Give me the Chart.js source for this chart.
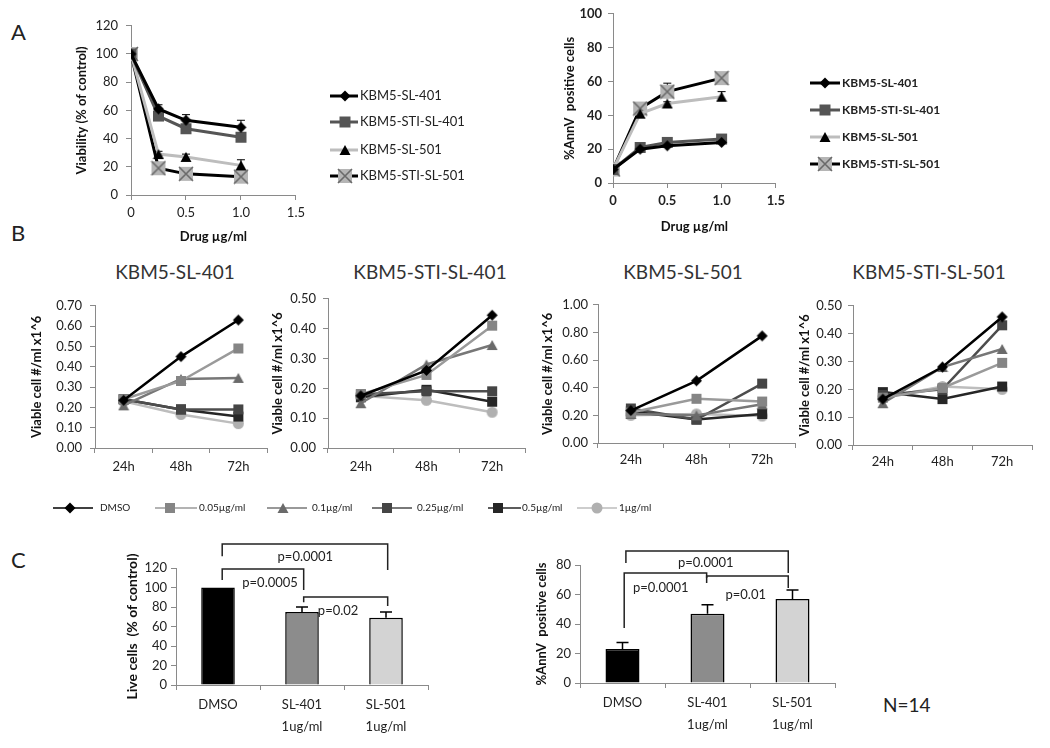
<!DOCTYPE html>
<html>
<head>
<meta charset="utf-8">
<script src="https://cdn.jsdelivr.net/npm/chart.js@4.4.1/dist/chart.umd.min.js"></script>
<style>
  body { margin: 0; background: #fff; font-family: Lato, "Open Sans", sans-serif; color: #222; }
  #page { position: relative; width: 1050px; height: 748px; overflow: hidden; background: #fff; }
  canvas { position: absolute; }
  .lbl { position: absolute; white-space: nowrap; line-height: 1; }
  .panel { font-size: 22px; color: #222; }
  .title { font-size: 19px; color: #333; transform: translateX(-50%); }
</style>
</head>
<body>
<div id="page">
  <div class="lbl panel" style="left:11px;top:21px">A</div>
  <div class="lbl panel" style="left:11px;top:222px">B</div>
  <div class="lbl panel" style="left:11px;top:549px">C</div>

  <div class="lbl title" style="left:175px;top:262px">KBM5-SL-401</div>
  <div class="lbl title" style="left:430px;top:262px">KBM5-STI-SL-401</div>
  <div class="lbl title" style="left:683px;top:262px">KBM5-SL-501</div>
  <div class="lbl title" style="left:929px;top:262px">KBM5-STI-SL-501</div>
  <div class="lbl" style="left:883px;top:695px;font-size:19px;color:#222">N=14</div>

  <canvas id="a1" width="236" height="235" style="left:74px;top:10px"></canvas>
  <canvas id="a2" width="228" height="235" style="left:562px;top:0px"></canvas>
  <canvas id="legA1" width="170" height="110" style="left:320px;top:80px"></canvas>
  <canvas id="legA2" width="170" height="110" style="left:800px;top:68px"></canvas>

  <canvas id="b1" width="246" height="193" style="left:29px;top:290px"></canvas>
  <canvas id="b2" width="263" height="199" style="left:270px;top:284px"></canvas>
  <canvas id="b3" width="263" height="186" style="left:540px;top:292px"></canvas>
  <canvas id="b4" width="243" height="188" style="left:797px;top:292px"></canvas>
  <canvas id="legB" width="700" height="28" style="left:0px;top:495px"></canvas>

  <canvas id="c1" width="309" height="213" style="left:124px;top:535px"></canvas>
  <canvas id="c2" width="306" height="208" style="left:534px;top:540px"></canvas>
</div>

<script>
Chart.defaults.font.family = "Lato, 'Open Sans', sans-serif";
Chart.defaults.color = "#222";

// ---- panel A: dose response ----
const doses = [0, 0.25, 0.5, 1];
const cellLines = ["KBM5-SL-401", "KBM5-STI-SL-401", "KBM5-SL-501", "KBM5-STI-SL-501"];
const viability = [
  [100, 61, 53, 48],
  [100, 56, 47, 41],
  [100, 29, 27, 21],
  [100, 19, 15, 13],
];
const viabilityErr = [[0, 3, 4, 5], [0, 2, 2, 2], [0, 2, 2, 4], [0, 1, 1, 1]];
const annexinA = [
  [8, 20, 22, 24],
  [8, 21, 24, 26],
  [8, 41, 47, 51],
  [8, 44, 54, 62],
];
const annexinAErr = [[0, 1, 1, 1], [0, 1, 1, 1], [0, 1, 1, 3], [0, 1, 5, 1]];

// ---- panel B: viable cells over time ----
const times = ["24h", "48h", "72h"];
const doseLabels = ["DMSO", "0.05µg/ml", "0.1µg/ml", "0.25µg/ml", "0.5µg/ml", "1µg/ml"];
const sl401 = [
  [0.235, 0.45, 0.63],
  [0.24, 0.33, 0.49],
  [0.21, 0.34, 0.345],
  [0.24, 0.19, 0.19],
  [0.24, 0.19, 0.155],
  [0.23, 0.165, 0.12],
];
const stiSl401 = [
  [0.175, 0.26, 0.445],
  [0.18, 0.245, 0.41],
  [0.15, 0.28, 0.345],
  [0.18, 0.19, 0.19],
  [0.17, 0.195, 0.155],
  [0.175, 0.16, 0.12],
];
const sl501 = [
  [0.235, 0.45, 0.775],
  [0.22, 0.32, 0.30],
  [0.21, 0.20, 0.28],
  [0.25, 0.17, 0.43],
  [0.23, 0.17, 0.21],
  [0.20, 0.21, 0.195],
];
const stiSl501 = [
  [0.165, 0.28, 0.46],
  [0.17, 0.205, 0.295],
  [0.15, 0.28, 0.345],
  [0.18, 0.20, 0.43],
  [0.19, 0.165, 0.21],
  [0.17, 0.21, 0.20],
];

// ---- panel C: 1ug/ml summary ----
const groups = [["DMSO"], ["SL-401", "1ug/ml"], ["SL-501", "1ug/ml"]];
const liveCells = [100, 75, 69];
const liveCellsErr = [0, 5, 6];
const annexinC = [23, 47, 57];
const annexinCErr = [4.5, 6, 6];
const liveBrackets = [
  { from: 0.05, to: 2.02, top: 144.6, low: [132, 118], text: "p=0.0001", tx: 1.04, ty: 131 },
  { from: 0.05, to: 1.02, top: 119, low: [107.7, 97.4], text: "p=0.0005", tx: 0.62, ty: 104.6 },
  { from: 1.02, to: 2.02, top: 90.3, low: [85, 81], text: "p=0.02", tx: 1.43, ty: 75.9 },
];
const annexinBrackets = [
  { from: 0.04, to: 1.95, top: 89.5, low: [81.4, 74.6], text: "p=0.0001", tx: 0.98, ty: 81.4 },
  { from: 0.02, to: 0.99, top: 74.6, low: [37.3, 67.8], text: "p=0.0001", tx: 0.45, ty: 64.4 },
  { from: 0.99, to: 1.95, top: 72.5, low: [71.2, 64.4], text: "p=0.01", tx: 1.45, ty: 59.7 },
];

// styles
const aStyles = [
  { line: "#000", marker: "diamond", size: 11, fill: "#000" },
  { line: "#555", marker: "square", size: 11, fill: "#555" },
  { line: "#bdbdbd", marker: "triangle", size: 10, fill: "#000" },
  { line: "#000", marker: "xbox", size: 14, fill: "#b5b5b5", stroke: "#6a6a6a" },
];
const bStyles = [
  { line: "#000", marker: "diamond", size: 11, fill: "#000" },
  { line: "#9a9a9a", marker: "square", size: 10, fill: "#858585" },
  { line: "#777", marker: "triangle", size: 10, fill: "#6a6a6a" },
  { line: "#4d4d4d", marker: "square", size: 10, fill: "#454545" },
  { line: "#262626", marker: "square", size: 10, fill: "#262626" },
  { line: "#bdbdbd", marker: "circle", size: 11, fill: "#b0b0b0" },
];
const cFills = ["#000", "#8c8c8c", "#d3d3d3"];

const drawMarker = (ctx, st, x, y) => {
  const s = st.size, h = s / 2;
  ctx.save();
  ctx.fillStyle = st.fill;
  ctx.beginPath();
  if (st.marker === "diamond") {
    ctx.moveTo(x, y - h); ctx.lineTo(x + h, y); ctx.lineTo(x, y + h); ctx.lineTo(x - h, y); ctx.closePath(); ctx.fill();
  } else if (st.marker === "square") {
    ctx.rect(x - h, y - h, s, s); ctx.fill();
  } else if (st.marker === "triangle") {
    ctx.moveTo(x, y - h); ctx.lineTo(x + h * 1.1, y + h); ctx.lineTo(x - h * 1.1, y + h); ctx.closePath(); ctx.fill();
  } else if (st.marker === "circle") {
    ctx.arc(x, y, h, 0, Math.PI * 2); ctx.fill();
  } else if (st.marker === "xbox") {
    ctx.rect(x - h, y - h, s, s); ctx.fill();
    ctx.beginPath();
    ctx.strokeStyle = st.stroke; ctx.lineWidth = 1.6;
    ctx.moveTo(x - h, y - h); ctx.lineTo(x + h, y + h);
    ctx.moveTo(x + h, y - h); ctx.lineTo(x - h, y + h);
    ctx.stroke();
  }
  ctx.restore();
};

const markerImg = (st) => {
  const c = document.createElement("canvas");
  c.width = st.size + 2; c.height = st.size + 2;
  drawMarker(c.getContext("2d"), st, c.width / 2, c.height / 2);
  return c;
};

// error bars drawn from the data values through the y scale
const errorBars = {
  id: "errorBars",
  draw(chart, opts) {
    const { ctx } = chart;
    const y = chart.scales.y;
    ctx.save();
    ctx.strokeStyle = "#000";
    ctx.lineWidth = opts.width || 1;
    opts.errs.forEach((errs, di) => {
      const ds = chart.data.datasets[di];
      chart.getDatasetMeta(di).data.forEach((el, j) => {
        const e = errs[j];
        if (!e) return;
        const v = ds.data[j];
        const val = typeof v === "object" ? v.y : v;
        const top = y.getPixelForValue(val + e);
        ctx.beginPath();
        ctx.moveTo(el.x, y.getPixelForValue(val));
        ctx.lineTo(el.x, top);
        ctx.moveTo(el.x - opts.cap, top);
        ctx.lineTo(el.x + opts.cap, top);
        ctx.stroke();
      });
    });
    ctx.restore();
  },
  beforeDatasetsDraw(chart, args, opts) {
    if (opts.errs && opts.before) this.draw(chart, opts);
  },
  afterDatasetsDraw(chart, args, opts) {
    if (opts.errs && !opts.before) this.draw(chart, opts);
  },
};

const brackets = {
  id: "brackets",
  afterDraw(chart, args, opts) {
    if (!opts.items) return;
    const { ctx } = chart;
    const x = chart.scales.x, y = chart.scales.y;
    ctx.save();
    ctx.strokeStyle = "#222";
    ctx.lineWidth = 1.5;
    ctx.fillStyle = "#222";
    ctx.font = "13px Lato, 'Open Sans', sans-serif";
    ctx.textAlign = "center";
    ctx.textBaseline = "middle";
    opts.items.forEach((b) => {
      const xa = x.getPixelForValue(b.from), xb = x.getPixelForValue(b.to);
      const yt = y.getPixelForValue(b.top);
      ctx.beginPath();
      ctx.moveTo(xa, y.getPixelForValue(b.low[0]));
      ctx.lineTo(xa, yt);
      ctx.lineTo(xb, yt);
      ctx.lineTo(xb, y.getPixelForValue(b.low[1]));
      ctx.stroke();
      ctx.fillText(b.text, x.getPixelForValue(b.tx), y.getPixelForValue(b.ty));
    });
    ctx.restore();
  },
};

Chart.register(errorBars, brackets);

const yAxis = (o) => ({
  min: 0,
  max: o.max,
  ticks: {
    stepSize: o.step,
    color: "#222",
    padding: o.tickPad,
    font: { size: 13, weight: o.bold ? "bold" : "normal" },
    callback: o.fmt || ((v) => v),
  },
  grid: { drawOnChartArea: false, tickLength: 5, color: "#8a8a8a" },
  border: { color: "#8a8a8a", width: 1 },
  title: { display: true, text: o.title, color: "#111", padding: 0, font: { size: o.titleSize || 13, weight: "bold" } },
  afterFit: (s) => { s.width = o.width; },
});

const catAxis = (labels, height, pad, lineHeight) => ({
  type: "category",
  labels: labels,
  offset: true,
  ticks: { color: "#222", padding: pad, font: { size: 13, lineHeight: lineHeight || 1.2 } },
  grid: { drawOnChartArea: false, offset: true, tickLength: 5, color: "#8a8a8a" },
  border: { color: "#8a8a8a", width: 1 },
  afterFit: (s) => { s.height = height; },
});

const lineA = (id, values, errs, o) => new Chart(document.getElementById(id), {
  type: "line",
  data: {
    datasets: cellLines.map((name, i) => ({
      label: name,
      data: doses.map((d, j) => ({ x: d, y: values[i][j] })),
      borderColor: aStyles[i].line,
      borderWidth: 3,
      pointStyle: markerImg(aStyles[i]),
      tension: 0,
    })),
  },
  options: {
    responsive: false,
    animation: false,
    layout: { padding: { top: o.top, right: 12, bottom: 0, left: 0 } },
    plugins: { legend: { display: false }, tooltip: { enabled: false }, errorBars: { errs: errs, cap: 4, before: true } },
    scales: {
      x: {
        type: "linear",
        min: 0,
        max: 1.5,
        ticks: { stepSize: 0.5, color: "#222", padding: 5, font: { size: 13, weight: o.bold ? "bold" : "normal" } },
        grid: { drawOnChartArea: false, tickLength: 5, color: "#8a8a8a" },
        border: { color: "#8a8a8a", width: 1 },
        title: { display: true, text: "Drug µg/ml", color: "#111", padding: 0, font: { size: 13, weight: "bold" } },
        afterFit: (s) => { s.height = o.xH; },
      },
      y: yAxis({ max: o.max, step: 20, title: o.title, width: o.yW, bold: o.bold, tickPad: o.tickPad }),
    },
  },
});

const lineB = (id, values, o) => new Chart(document.getElementById(id), {
  type: "line",
  data: {
    labels: times,
    datasets: doseLabels.map((name, i) => ({
      label: name,
      data: values[i],
      borderColor: bStyles[i].line,
      borderWidth: 2.5,
      pointStyle: markerImg(bStyles[i]),
      tension: 0,
    })),
  },
  options: {
    responsive: false,
    animation: false,
    layout: { padding: { top: 12, right: 8, bottom: 0, left: 0 } },
    plugins: { legend: { display: false }, tooltip: { enabled: false } },
    scales: {
      x: catAxis(times, 35, o.xPad),
      y: yAxis({ max: o.max, step: o.step, title: "Viable cell #/ml x1^6", width: o.yW, tickPad: o.tickPad, fmt: (v) => Number(v).toFixed(2) }),
    },
  },
});

const barC = (id, values, errs, items, o) => new Chart(document.getElementById(id), {
  type: "bar",
  data: {
    labels: groups,
    datasets: [{
      data: values,
      backgroundColor: cFills,
      borderColor: "#000",
      borderWidth: 1.5,
      barPercentage: 0.4,
      categoryPercentage: 1,
    }],
  },
  options: {
    responsive: false,
    animation: false,
    layout: { padding: { top: o.top, right: 5, bottom: 0, left: 0 } },
    plugins: {
      legend: { display: false },
      tooltip: { enabled: false },
      errorBars: { errs: [errs], cap: 6, width: 1.5 },
      brackets: { items: items },
    },
    scales: {
      x: catAxis(groups, o.xH, 4, 1.7),
      y: yAxis({ max: o.max, step: 20, title: o.title, width: o.yW, tickPad: 4, titleSize: o.titleSize }),
    },
  },
});

lineA("a1", viability, viabilityErr, { top: 13, xH: 50, yW: 57, max: 120, title: "Viability (% of control)", bold: false, tickPad: 8 });
lineA("a2", annexinA, annexinAErr, { top: 11, xH: 52, yW: 51, max: 100, title: "%AnnV  positive cells", bold: true, tickPad: 6 });

lineB("b1", sl401, { max: 0.7, step: 0.1, yW: 66, tickPad: 8, xPad: 6 });
lineB("b2", stiSl401, { max: 0.5, step: 0.1, yW: 58, tickPad: 7, xPad: 6 });
lineB("b3", sl501, { max: 1.0, step: 0.2, yW: 58, tickPad: 5, xPad: 4 });
lineB("b4", stiSl501, { max: 0.5, step: 0.1, yW: 56, tickPad: 6, xPad: 4 });

barC("c1", liveCells, liveCellsErr, liveBrackets, { top: 33, xH: 63, yW: 52, max: 120, title: "Live cells  (% of control)", titleSize: 14 });
barC("c2", annexinC, annexinCErr, annexinBrackets, { top: 25, xH: 65, yW: 46, max: 80, title: "%AnnV  positive cells" });

// legends
const drawLegend = (id, styles, names, items, font, lw) => {
  const ctx = document.getElementById(id).getContext("2d");
  ctx.font = font;
  ctx.textBaseline = "middle";
  items.forEach((it, i) => {
    const st = styles[i];
    ctx.strokeStyle = st.line;
    ctx.lineWidth = lw;
    ctx.beginPath();
    ctx.moveTo(it.x1, it.y);
    ctx.lineTo(it.x2, it.y);
    ctx.stroke();
    drawMarker(ctx, st, it.mx, it.y);
    ctx.fillStyle = "#222";
    ctx.fillText(names[i], it.tx, it.y);
  });
};

drawLegend("legA1", aStyles, cellLines, [
  { x1: 10, x2: 38, mx: 25, tx: 40, y: 16 },
  { x1: 10, x2: 38, mx: 25, tx: 40, y: 42 },
  { x1: 10, x2: 38, mx: 25, tx: 40, y: 70 },
  { x1: 10, x2: 38, mx: 25, tx: 40, y: 96 },
], "13px Lato, 'Open Sans', sans-serif", 3);

drawLegend("legA2", aStyles, cellLines, [
  { x1: 10, x2: 40, mx: 25, tx: 42, y: 15 },
  { x1: 10, x2: 40, mx: 25, tx: 42, y: 42 },
  { x1: 10, x2: 40, mx: 25, tx: 42, y: 69 },
  { x1: 10, x2: 40, mx: 25, tx: 42, y: 96 },
], "bold 12px Lato, 'Open Sans', sans-serif", 3);

drawLegend("legB", bStyles, doseLabels, [
  { x1: 53, x2: 93, mx: 70, tx: 100, y: 13 },
  { x1: 155, x2: 197, mx: 170, tx: 199, y: 13 },
  { x1: 267, x2: 307, mx: 283, tx: 312, y: 13 },
  { x1: 372, x2: 412, mx: 387, tx: 417, y: 13 },
  { x1: 488, x2: 521, mx: 498, tx: 522, y: 13 },
  { x1: 577, x2: 617, mx: 597, tx: 619, y: 13 },
], "10px Lato, 'Open Sans', sans-serif", 1.5);
</script>
</body>
</html>
